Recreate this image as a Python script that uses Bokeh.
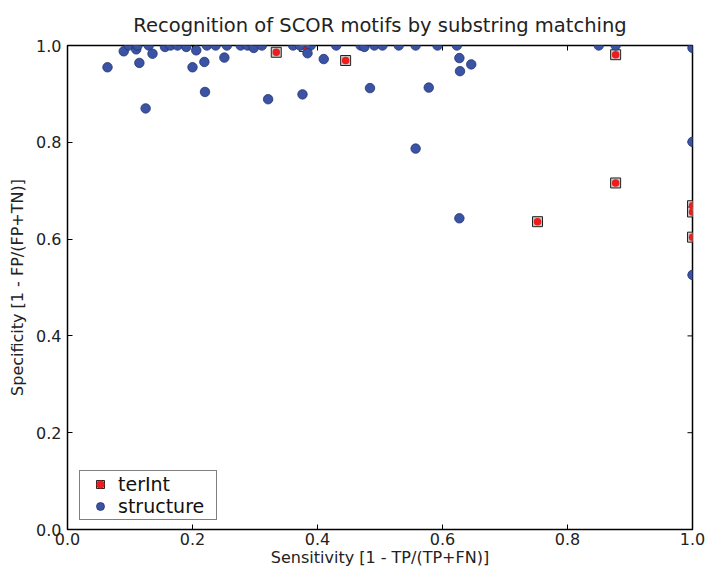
from bokeh.plotting import figure
from bokeh.models import (Range1d, FixedTicker, PrintfTickFormatter,
                          Legend, LegendItem, Title)
from bokeh.embed import file_html
from bokeh.resources import INLINE

# Motifs labelled "structure": (sensitivity, specificity)
struct_x = [0.064, 0.090, 0.098, 0.110, 0.112, 0.115, 0.130, 0.136, 0.125, 0.156,
            0.165, 0.176, 0.190, 0.206, 0.200, 0.219, 0.220, 0.223, 0.237, 0.255,
            0.251, 0.277, 0.288, 0.298, 0.311, 0.321, 0.361, 0.372, 0.389, 0.384,
            0.376, 0.410, 0.430, 0.469, 0.475, 0.484, 0.491, 0.504, 0.530, 0.557,
            0.578, 0.592, 0.623, 0.627, 0.628, 0.646, 0.557, 0.627, 0.850, 0.877,
            1.000, 1.000, 1.000]
struct_y = [0.955, 0.988, 1.000, 0.992, 1.000, 0.964, 1.000, 0.983, 0.870, 0.997,
            1.000, 1.000, 0.997, 0.990, 0.955, 0.966, 0.904, 1.000, 1.000, 1.000,
            0.975, 1.000, 1.000, 0.995, 1.000, 0.889, 1.000, 1.000, 1.000, 0.984,
            0.899, 0.972, 1.000, 1.000, 0.997, 0.912, 1.000, 1.000, 1.000, 1.000,
            0.913, 1.000, 1.000, 0.974, 0.947, 0.961, 0.787, 0.643, 1.000, 1.000,
            0.995, 0.801, 0.526]

# Motifs labelled "terInt"
terint_x = [0.334, 0.379, 0.445, 0.752, 0.877, 0.877, 1.000, 1.000, 1.000]
terint_y = [0.986, 0.998, 0.969, 0.636, 0.716, 0.981, 0.669, 0.656, 0.604]

ticks = [0.0, 0.2, 0.4, 0.6, 0.8, 1.0]

FONT = "DejaVu Sans"
W, H = 707, 570
LEFT, RIGHT, TOP, BOTTOM = 67, 15, 45, 41
FRAME_W = W - LEFT - RIGHT
FRAME_H = H - TOP - BOTTOM
TICK_PX = 5

p = figure(width=W, height=H, output_backend="svg", toolbar_location=None,
           x_range=Range1d(0, 1), y_range=Range1d(0, 1),
           min_border_left=LEFT, min_border_right=RIGHT, min_border_top=TOP,
           min_border_bottom=BOTTOM, title=None, background_fill_color="white",
           border_fill_color="white")

p.add_layout(Title(text="Recognition of SCOR motifs by substring matching",
                   align="center", text_font=FONT, text_font_size="19.5px",
                   text_font_style="normal", text_color="#222222",
                   offset=0, standoff=18), "above")

p.xgrid.visible = False
p.ygrid.visible = False
p.outline_line_color = "black"
p.outline_line_width = 1.5
p.outline_line_alpha = 1.0

for ax in (p.xaxis[0], p.yaxis[0]):
    ax.ticker = FixedTicker(ticks=ticks)
    ax.formatter = PrintfTickFormatter(format="%.1f")
    ax.axis_line_color = None
    ax.major_tick_in = TICK_PX
    ax.major_tick_out = 0
    ax.major_tick_line_color = "black"
    ax.minor_tick_line_color = None
    ax.major_label_text_font = FONT
    ax.major_label_text_font_size = "16px"
    ax.major_label_text_color = "#222222"
    ax.axis_label_text_font = FONT
    ax.axis_label_text_font_size = "16px"
    ax.axis_label_text_font_style = "normal"
    ax.axis_label_text_color = "#222222"

p.xaxis[0].axis_label = "Sensitivity [1 - TP/(TP+FN)]"
p.xaxis[0].major_label_standoff = 3
p.xaxis[0].axis_label_standoff = 0
p.yaxis[0].axis_label = "Specificity [1 - FP/(FP+TN)]"
p.yaxis[0].major_label_standoff = 6
p.yaxis[0].axis_label_standoff = 6

# inward ticks along the top and right edges of the frame
dy = TICK_PX / FRAME_H
dx = TICK_PX / FRAME_W
p.segment(x0=ticks, y0=[1.0] * len(ticks), x1=ticks, y1=[1.0 - dy] * len(ticks),
          line_color="black", line_width=1)
p.segment(x0=[1.0] * len(ticks), y0=ticks, x1=[1.0 - dx] * len(ticks), y1=ticks,
          line_color="black", line_width=1)

# terInt: dark-edged square with a red dot inside
sq = p.scatter(terint_x, terint_y, marker="square", size=10,
               fill_color="#c8c8c8", line_color="#222222", line_width=1)
dot = p.scatter(terint_x, terint_y, marker="circle", size=7.5,
                fill_color="#ee1c1c", line_color=None)

# structure: blue circles
st = p.scatter(struct_x, struct_y, marker="circle", size=9.5,
               fill_color="#3a53a4", line_color="#243470", line_width=0.8)

legend = Legend(items=[LegendItem(label="terInt", renderers=[sq, dot]),
                       LegendItem(label="structure", renderers=[st])],
                location=(12, 9), border_line_color="black", border_line_width=1,
                label_text_font=FONT, label_text_font_size="19px",
                label_text_color="#111111", padding=2, spacing=0,
                glyph_width=36, glyph_height=20, label_height=20,
                label_width=96, label_standoff=0, margin=0,
                background_fill_alpha=1)
p.add_layout(legend, "center")

open("out.html", "w").write(file_html(p, INLINE))
